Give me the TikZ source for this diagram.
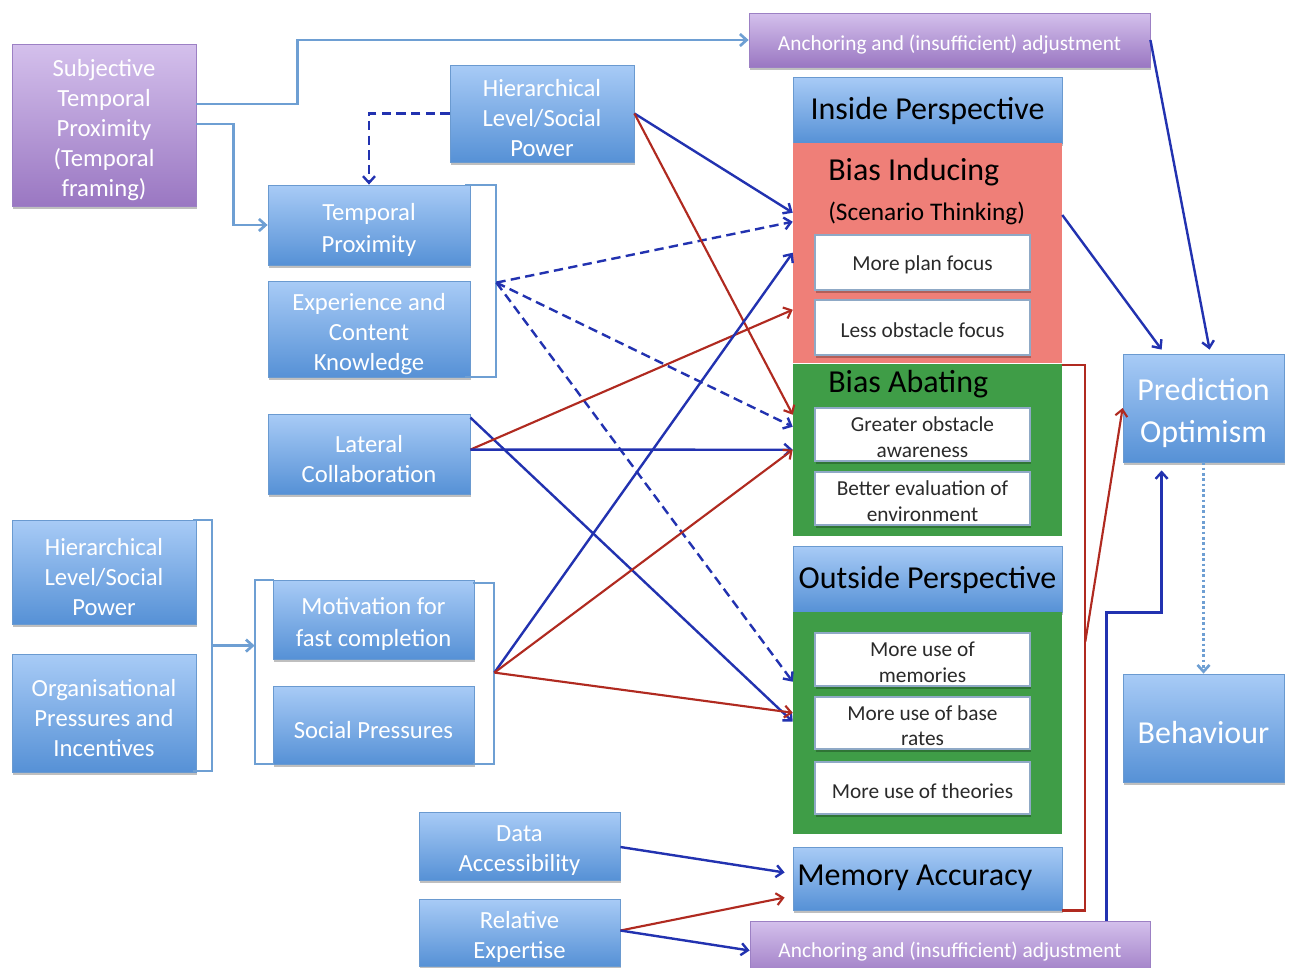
\documentclass[tikz,border=0pt]{standalone}
\usepackage{fontspec}
\setmainfont{Carlito}
\usetikzlibrary{arrows.meta,fit,calc,shadows}
\definecolor{dblue}{HTML}{2232B0}
\definecolor{dred}{HTML}{B02A20}
\definecolor{lblue}{HTML}{6E9FD3}
\definecolor{btop}{HTML}{A8CBF6}
\definecolor{bbot}{HTML}{5691D6}
\definecolor{bdraw}{HTML}{6A9AD0}
\definecolor{ptop}{HTML}{D4C0EC}
\definecolor{pbot}{HTML}{9A77C2}
\definecolor{pdraw}{HTML}{9C80C4}
\definecolor{salmon}{HTML}{EF7F78}
\definecolor{gfill}{HTML}{3F9D47}
\definecolor{wdraw}{HTML}{8FA9C6}
\definecolor{wtext}{HTML}{2A2A2A}
% #1 extra text options, #2 box style, #3 fit corners, #4 name, #5 text
\newcommand\mybox[5][]{%
  \node[#2,fit={#3}] (#4) {};
  \node[#2 txt,#1] (#4t) at (#4.center) {#5};}
\begin{document}
\begin{tikzpicture}[x=0.75pt,y=-0.75pt,
  shad/.style={drop shadow={shadow xshift=1pt,shadow yshift=-2pt,opacity=0.25,fill=black}},
  bbox/.style={shad,draw=bdraw,line width=0.6pt,top color=btop,bottom color=bbot,inner sep=0pt},
  bbox txt/.style={inner sep=0pt,yshift=-3.5pt,text=white,align=center,font=\fontsize{18.5}{22.5}\selectfont},
  pbox/.style={shad,draw=pdraw,line width=0.6pt,top color=ptop,bottom color=pbot,inner sep=0pt},
  pbox txt/.style={bbox txt},
  hbox/.style={bbox},
  hbox txt/.style={inner sep=0pt,yshift=-0.8pt,text=black,font=\fontsize{24}{28}\selectfont},
  cbox/.style={draw=none,inner sep=0pt},
  wbox/.style={shad,draw=wdraw,line width=0.8pt,fill=white,inner sep=0pt},
  wbox txt/.style={inner sep=0pt,yshift=-2pt,text=wtext,align=center,font=\fontsize{16}{19}\selectfont},
  ttl/.style={anchor=west,inner sep=0pt,text=black},
  tip/.style={-{Straight Barb[length=5pt,width=9pt]}},
  bconn/.style={tip,draw=dblue,line width=1.8pt},
  rconn/.style={tip,draw=dred,line width=1.6pt},
  dconn/.style={bconn,dash pattern=on 7pt off 4pt},
  lconn/.style={tip,draw=lblue,line width=2pt},
  brk/.style={draw=lblue,line width=1.6pt},
  rbrk/.style={draw=dred,line width=1.8pt}]
\useasboundingbox (0,0) rectangle (1291,967);
\fill[white] (0,0) rectangle (1291,967);

% left column and sources
\mybox{pbox}{(12,44)(196,206)}{stp}{Subjective\\Temporal\\Proximity\\(Temporal\\framing)}
\mybox[font=\fontsize{16}{19}\selectfont]{pbox}{(749,13)(1150,67)}{ancT}{Anchoring and (insufficient) adjustment}
\mybox{bbox}{(450,65)(634,162)}{hier1}{Hierarchical\\Level/Social\\Power}
\mybox[font=\fontsize{18.5}{24}\selectfont]{bbox}{(268,185)(470,265)}{tp}{Temporal\\Proximity}
\mybox{bbox}{(268,281)(470,377)}{eck}{Experience and\\Content\\Knowledge}
\mybox{bbox}{(268,414)(470,494)}{lat}{Lateral\\Collaboration}
\mybox{bbox}{(12,520)(196,624)}{hier2}{Hierarchical\\Level/Social\\Power}
\mybox{bbox}{(12,654)(196,772)}{org}{Organisational\\Pressures and\\Incentives}
\mybox[font=\fontsize{18.5}{24}\selectfont]{bbox}{(273,580)(474,659)}{mot}{Motivation for\\fast completion}
\mybox{bbox}{(273,686)(474,764)}{soc}{Social Pressures}
\mybox{bbox}{(419,812)(620,880)}{data}{Data\\Accessibility}
\mybox{bbox}{(419,899)(620,966)}{rel}{Relative\\Expertise}

% centre column
\mybox{hbox}{(793,77)(1062,143)}{inside}{Inside Perspective}
\node[cbox,fill=salmon,fit={(793,143)(1062,363)}] (induce) {};
\node[cbox,fill=gfill,fit={(793,364)(1062,536)}] (abate) {};
\mybox{hbox}{(793,546)(1062,612)}{outside}{Outside Perspective}
\node[cbox,fill=gfill,fit={(793,612)(1062,834)}] (outgreen) {};
\node[hbox,fit={(793,847)(1062,910)}] (mem) {};
\node[ttl,font=\fontsize{24}{28}\selectfont] (memt) at (797,878) {Memory Accuracy};
\node[pbox,fit={(750,921)(1150,980)}] (ancB) {};
\node[pbox txt,yshift=2pt,font=\fontsize{16}{19}\selectfont] (ancBt) at (950,950) {Anchoring and (insufficient) adjustment};

\node[ttl,font=\fontsize{24}{28}\selectfont] (tInd) at (828,172) {Bias Inducing};
\node[ttl,font=\fontsize{19}{22}\selectfont] (tScen) at (828,213) {(Scenario Thinking)};
\node[ttl,font=\fontsize{24}{28}\selectfont] (tAb) at (828,384) {Bias Abating};

\mybox{wbox}{(815,235)(1030,290)}{plan}{More plan focus}
\mybox{wbox}{(815,300)(1030,355)}{less}{Less obstacle focus}
\mybox{wbox}{(815,408)(1030,461)}{greater}{Greater obstacle\\awareness}
\mybox{wbox}{(815,472)(1030,525)}{better}{Better evaluation of\\environment}
\mybox{wbox}{(815,633)(1030,686)}{memories}{More use of\\memories}
\mybox{wbox}{(815,697)(1030,749)}{base}{More use of base\\rates}
\mybox{wbox}{(815,762)(1030,814)}{theories}{More use of theories}

% right column
\mybox[font=\fontsize{24}{31.5}\selectfont]{bbox}{(1123,354)(1284,462)}{pred}{Prediction\\Optimism}
\mybox[font=\fontsize{24}{28}\selectfont]{bbox}{(1123,674)(1284,782)}{beh}{Behaviour}

% brackets
\draw[brk] ($(tp.north east)+(-5,0)$) -- ++(31,0) |- ($(eck.south east)+(-5,0)$);
\coordinate (tpb) at ($(tp.north east)+(26,98)$);
\draw[brk] ($(hier2.north east)+(-3,0)$) -- ++(19,0) |- ($(org.south east)+(-3,-1)$);
\coordinate (lbk) at ($(hier2.north east)+(16,126)$);
\draw[brk] ($(mot.north west)+(1,0)$) -- ++(-19,0) |- ($(soc.south west)+(1,0)$);
\coordinate (lbk2) at ($(mot.north west)+(-18,66)$);
\draw[brk] ($(mot.north east)+(-1,3)$) -- ++(21,0) |- ($(soc.south east)+(-1,0)$);
\coordinate (mb) at ($(mot.north east)+(20,93)$);
\draw[rbrk] ($(abate.north east)+(0,1)$) -- ++(23,0) |- (mem.south east);
\coordinate (rb) at ($(abate.north east)+(23,278)$);

% light blue connectors
\draw[lconn] ($(stp.east)+(0,-21)$) -- ++(101,0) |- (ancT.west);
\draw[lconn] ($(stp.east)+(0,-1)$) -- ++(37,0) |- (tp.west);
\draw[lconn] (lbk) -- (lbk2);
\draw[tip,draw=lblue,line width=2pt,dotted] (pred.south) -- (beh.north);

% dashed
\draw[dconn] (hier1.west) -| (tp.north);
\draw[dconn] (tpb) -- ($(induce.north west)+(0,79)$);
\draw[dconn] (tpb) -- ($(abate.north west)+(0,63)$);
\draw[dconn] (tpb) -- ($(outgreen.north west)+(0,70)$);

% hierarchical (top)
\draw[bconn] (hier1.east) -- ($(induce.north west)+(0,70)$);
\draw[rconn] (hier1.east) -- ($(abate.north west)+(0,51)$);

% lateral collaboration
\draw[bconn] ($(lat.north east)+(0,4)$) -- ($(outgreen.north west)+(0,110)$);
\draw[rconn] ($(lat.north east)+(0,36)$) -- ($(induce.north west)+(0,167)$);
\draw[bconn] ($(lat.north east)+(0,36)$) -- ($(abate.north west)+(0,86)$);

% motivation / social pressures group
\draw[bconn] (mb) -- ($(induce.north west)+(0,110)$);
\draw[rconn] (mb) -- ($(abate.north west)+(0,86)$);
\draw[rconn] (mb) -- ($(outgreen.north west)+(0,101)$);

% data / expertise
\draw[bconn] ($(data.east)+(0,1)$) -- ($(mem.west)+(-8,-6)$);
\draw[rconn] ($(rel.east)+(0,-2)$) -- ($(mem.west)+(-8,19)$);
\draw[bconn] ($(rel.east)+(0,-2)$) -- (ancB.west);

% to prediction optimism
\draw[rconn] (rb) -- (pred.west);
\draw[bconn] ($(ancB.north west)+(357,0)$) -- ++(0,-308) -| ($(pred.south west)+(39,8)$);
\draw[bconn] ($(induce.east)+(0,-38)$) -- ($(pred.north west)+(39,-4)$);
\draw[bconn] (ancT.east) -- ($(pred.north west)+(87,-4)$);
\end{tikzpicture}
\end{document}
